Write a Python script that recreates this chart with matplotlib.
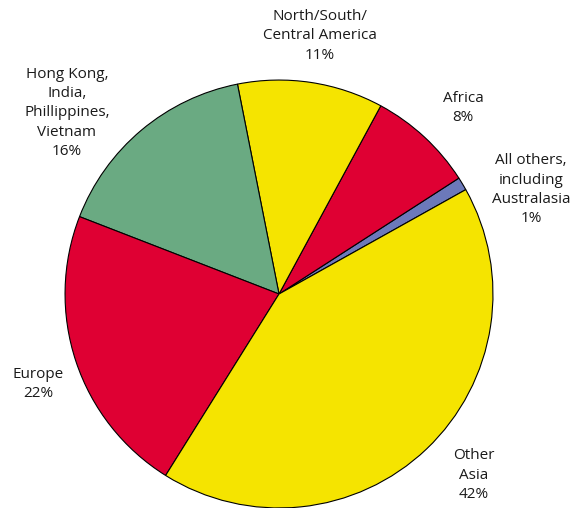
import matplotlib.pyplot as plt

# 数据
labels = ['All others,\nincluding\nAustralasia\n1%', 'Africa\n8%',
          'North/South/\nCentral America\n11%',
          'Hong Kong,\nIndia,\nPhillippines,\nVietnam\n16%',
          'Europe\n22%', 'Other\nAsia\n42%']
shares = [1, 8, 11, 16, 22, 42]
colors = ['#6C79BA', '#DF0033', '#F5E400', '#6AAA82', '#DF0033', '#F5E400']

# 标签位置 (饼图半径 = 1)
label_pos = [(1.178, 0.488), (0.860, 0.869), (0.192, 1.206),
             (-0.991, 0.846), (-1.126, -0.421), (0.911, -0.846)]

plt.rcParams['font.family'] = ['Open Sans', 'DejaVu Sans']

fig = plt.figure(figsize=(5.7, 5.08), dpi=100)
ax = fig.add_axes([0, 0, 1, 1])
ax.pie(shares, colors=colors, startangle=29.2, counterclock=True,
       wedgeprops=dict(edgecolor='black', linewidth=0.8))

for txt, (x, y) in zip(labels, label_pos):
    ax.text(x, y, txt, ha='center', va='center', fontsize=11,
            linespacing=1.38, color='#1a1a1a')

ax.set_xlim(-1.304, 1.360)
ax.set_ylim(-1.0, 1.374)
ax.set_aspect('equal')
ax.axis('off')

fig.savefig('out.png', dpi=100)
